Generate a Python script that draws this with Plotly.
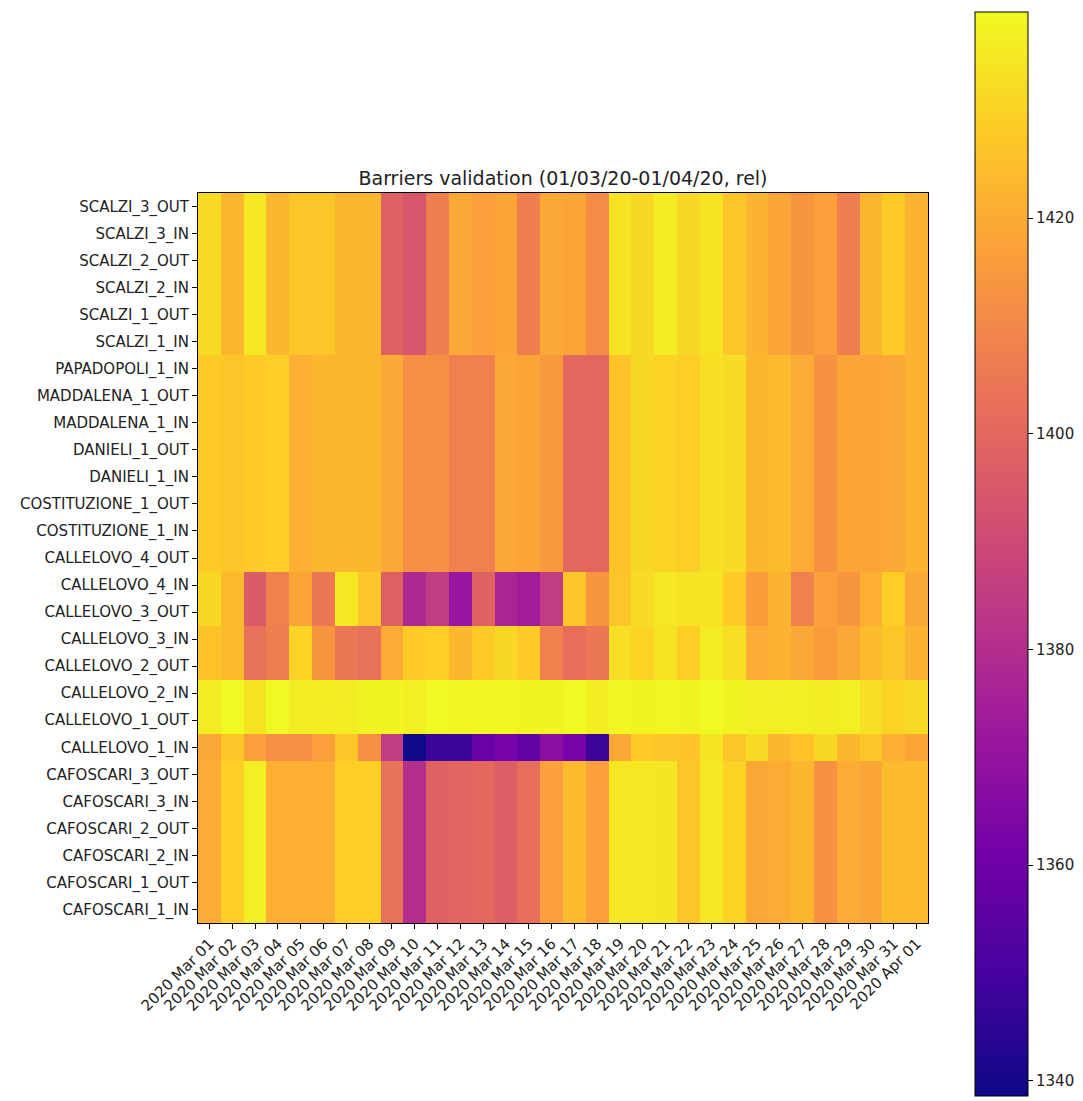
import plotly.graph_objects as go

dates = ["2020 Mar %02d" % d for d in range(1, 32)] + ["2020 Apr 01"]

row_labels = [
    "SCALZI_3_OUT", "SCALZI_3_IN", "SCALZI_2_OUT", "SCALZI_2_IN", "SCALZI_1_OUT", "SCALZI_1_IN",
    "PAPADOPOLI_1_IN", "MADDALENA_1_OUT", "MADDALENA_1_IN", "DANIELI_1_OUT", "DANIELI_1_IN",
    "COSTITUZIONE_1_OUT", "COSTITUZIONE_1_IN", "CALLELOVO_4_OUT",
    "CALLELOVO_4_IN", "CALLELOVO_3_OUT", "CALLELOVO_3_IN", "CALLELOVO_2_OUT",
    "CALLELOVO_2_IN", "CALLELOVO_1_OUT", "CALLELOVO_1_IN",
    "CAFOSCARI_3_OUT", "CAFOSCARI_3_IN", "CAFOSCARI_2_OUT", "CAFOSCARI_2_IN",
    "CAFOSCARI_1_OUT", "CAFOSCARI_1_IN",
]

scalzi = [1432, 1423, 1435, 1423, 1427, 1427, 1423, 1423, 1398, 1394, 1407, 1419, 1417, 1418, 1407, 1419,
          1418, 1411, 1434, 1431, 1436, 1431, 1434, 1427, 1422, 1418, 1414, 1417, 1407, 1423, 1428, 1422]
central = [1428, 1427, 1428, 1429, 1421, 1423, 1423, 1423, 1419, 1412, 1412, 1408, 1408, 1419, 1418, 1415,
           1400, 1400, 1426, 1431, 1430, 1429, 1433, 1432, 1423, 1424, 1420, 1413, 1418, 1418, 1419, 1422]
callelovo_4in_3out = [1431, 1424, 1396, 1408, 1418, 1405, 1435, 1427, 1398, 1378, 1385, 1371, 1398, 1377, 1374, 1385,
                      1427, 1414, 1427, 1432, 1435, 1434, 1434, 1428, 1416, 1422, 1408, 1417, 1414, 1421, 1429, 1419]
callelovo_3in_2out = [1426, 1424, 1403, 1407, 1430, 1414, 1405, 1403, 1420, 1428, 1429, 1423, 1428, 1431, 1428, 1408,
                      1402, 1405, 1433, 1430, 1434, 1429, 1436, 1433, 1420, 1422, 1419, 1416, 1419, 1424, 1427, 1422]
callelovo_2in_1out = [1436, 1439, 1434, 1439, 1436.5, 1436.5, 1436.5, 1438, 1438, 1437, 1439, 1438.5, 1438.5, 1438.5, 1438, 1438,
                      1439, 1436.5, 1438.5, 1438, 1438.5, 1438, 1439, 1438, 1437, 1437, 1437, 1436.5, 1437, 1433, 1430, 1432]
callelovo_1in = [1419, 1427, 1417, 1412, 1412, 1417, 1427, 1412, 1385, 1339, 1348, 1348, 1358, 1362, 1357, 1368,
                 1362, 1348, 1419, 1428, 1427, 1426, 1434, 1427, 1432, 1423, 1426, 1431, 1423, 1427, 1421, 1418]
cafoscari = [1420, 1429, 1437, 1421, 1421, 1421, 1429, 1429, 1403, 1380, 1398, 1399, 1400.5, 1397, 1402, 1417,
             1424, 1417, 1435, 1435, 1434.5, 1427, 1435, 1430, 1419, 1420, 1423, 1413, 1420, 1418, 1424, 1424]

row_groups = ([scalzi] * 6 + [central] * 8 + [callelovo_4in_3out] * 2 + [callelovo_3in_2out] * 2
              + [callelovo_2in_1out] * 2 + [callelovo_1in] + [cafoscari] * 6)
z = [list(g) for g in row_groups]

zmin, zmax = 1338.6, 1439.1
font = "DejaVu Sans"
tick_font = dict(family=font, size=15, color="#222")

fig = go.Figure(go.Heatmap(
    z=z, x=dates, y=row_labels,
    colorscale="Plasma", zmin=zmin, zmax=zmax,
    xgap=0, ygap=0,
    colorbar=dict(
        x=(975 - 198) / 730, xanchor="left", xpad=0, ypad=0,
        thickness=53, thicknessmode="pixels",
        len=1084, lenmode="pixels",
        y=(923 - 554) / 730, yanchor="middle",
        outlinewidth=1, outlinecolor="black",
        tickvals=[1340, 1360, 1380, 1400, 1420],
        ticks="outside", ticklen=5, tickwidth=1, tickcolor="black",
        tickfont=tick_font,
    ),
))

fig.update_layout(
    width=1083, height=1101,
    margin=dict(l=198, r=155, t=193, b=178, autoexpand=False),
    paper_bgcolor="white", plot_bgcolor="white",
    font=dict(family=font, size=15, color="#222"),
    title=dict(text="Barriers validation (01/03/20-01/04/20, rel)",
               x=0.5, xref="paper", xanchor="center",
               y=1 - 178 / 1101, yref="container", yanchor="middle",
               font=dict(family=font, size=19, color="#222")),
)
fig.update_xaxes(
    tickmode="array", tickvals=dates, ticktext=dates, tickangle=-45,
    ticks="outside", ticklen=5, tickcolor="black", automargin=False,
    showline=True, linecolor="black", linewidth=1, mirror=True,
    tickfont=tick_font,
)
fig.update_yaxes(
    autorange="reversed",
    tickmode="array", tickvals=row_labels, ticktext=row_labels,
    ticks="outside", ticklen=5, tickcolor="black", automargin=False,
    showline=True, linecolor="black", linewidth=1, mirror=True,
    tickfont=tick_font,
)

fig.write_html("out.html")
